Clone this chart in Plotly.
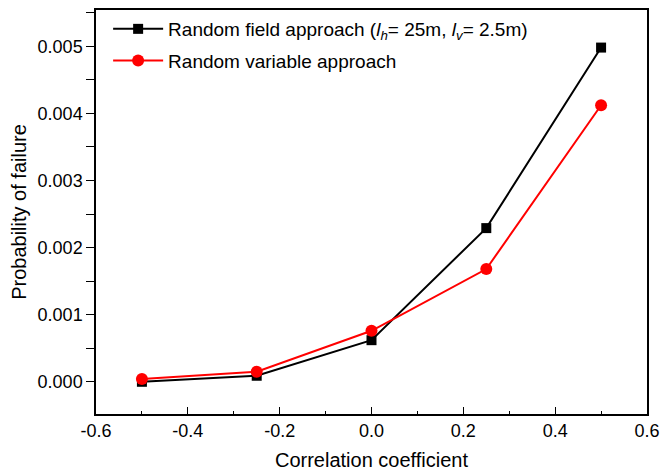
import plotly.graph_objects as go

corr = [-0.5, -0.25, 0.0, 0.25, 0.5]
pf_field = [0.0000, 0.00009, 0.00062, 0.00229, 0.00498]
pf_variable = [0.00004, 0.00015, 0.00076, 0.00168, 0.00412]

x_tickvals = [-0.6, -0.4, -0.2, 0.0, 0.2, 0.4, 0.6]
x_ticktext = ["-0.6", "-0.4", "-0.2", "0.0", "0.2", "0.4", "0.6"]
y_tickvals = [0.000, 0.001, 0.002, 0.003, 0.004, 0.005]
y_ticktext = ["0.000", "0.001", "0.002", "0.003", "0.004", "0.005"]

name_field = "Random field approach (<i>l<sub>h</sub></i>= 25m, <i>l<sub>v</sub></i>= 2.5m)"
name_var = "Random variable approach"

fig = go.Figure()
fig.add_trace(go.Scatter(x=corr, y=pf_field, mode="lines+markers", name=name_field,
                         legendgroup="a",
                         line=dict(color="black", width=2),
                         marker=dict(symbol="square", size=10, color="black")))
fig.add_trace(go.Scatter(x=corr, y=pf_variable, mode="lines+markers", name=name_var,
                         legendgroup="b",
                         line=dict(color="#ff0000", width=2),
                         marker=dict(symbol="circle", size=12, color="#ff0000")))

font = "Liberation Sans, Arial, sans-serif"
fig.update_layout(
    width=662, height=471,
    margin=dict(l=96, r=15, t=10, b=57),
    paper_bgcolor="white", plot_bgcolor="white",
    font=dict(family=font, color="black", size=18),
    showlegend=True,
    legend=dict(x=0.022, y=1.0, xanchor="left", yanchor="top",
                bgcolor="rgba(0,0,0,0)", font=dict(size=19, family=font),
                itemwidth=50, tracegroupgap=4),
    xaxis=dict(range=[-0.6, 0.6], tickvals=x_tickvals, ticktext=x_ticktext,
               showline=True, linecolor="black", linewidth=1.5, mirror=True,
               ticks="inside", ticklen=7, tickcolor="black", tickwidth=1.2,
               minor=dict(dtick=0.1, ticks="inside", ticklen=3, tickcolor="black"),
               showgrid=False, zeroline=False, automargin=False,
               title=dict(text="Correlation coefficient", font=dict(size=20)),
               tickfont=dict(size=18)),
    yaxis=dict(range=[-0.00048, 0.00554], tickvals=y_tickvals, ticktext=y_ticktext,
               showline=True, linecolor="black", linewidth=1.5, mirror=True,
               ticks="outside", ticklen=8, tickcolor="black", tickwidth=1.2,
               minor=dict(dtick=0.0005, ticks="outside", ticklen=8, tickcolor="black"),
               showgrid=False, zeroline=False, automargin=False,
               title=dict(text="Probability of failure", font=dict(size=20), standoff=6),
               tickfont=dict(size=18)),
)

fig.write_html("out.html")
